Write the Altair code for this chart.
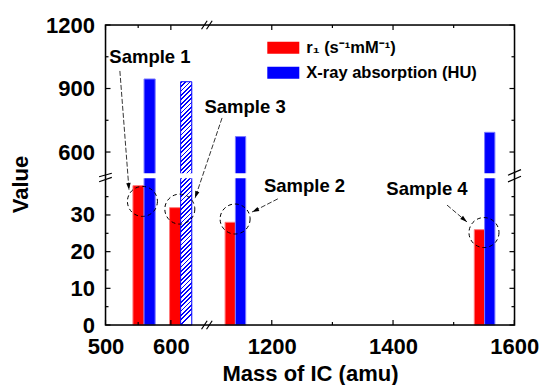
import altair as alt
import pandas as pd

# ---------------- data ----------------
samples = ["Sample 1", "Sample 3", "Sample 2", "Sample 4"]
mass = [559, 615, 1140, 1551]          # boundary between the red and blue bar of each sample
r1 = [38, 32, 28, 26]                  # r1 (s^-1 mM^-1)
xray = [945, 932, 673, 693]            # X-ray absorption (HU)
hatched = [False, True, False, False]

series_names = ["r\u2081 (s\u207b\u00b9mM\u207b\u00b9)", "X-ray absorption (HU)"]
series_colors = ["#ff0000", "#0000ff"]
series_edges = ["#ff7a7a", "#7a7aff"]

y_major = [0, 10, 20, 30, 600, 900, 1200]
y_minor = [5, 15, 25, 35, 750, 1050]
x_major = [500, 600, 1200, 1400, 1600]
x_minor = [550, 1300, 1500]

label_x = [568, 1156, 1254, 1456]
label_y = [1021, 785, 36.3, 35.5]
circle_x = [556.5, 613.7, 1139.5, 1550]
circle_y = [33.7, 31.6, 28.9, 25.2]
arrow_x1 = [522, 1118, 1210, 1489]
arrow_y1 = [983, 761, 34.4, 32.7]
arrow_x2 = [536, 637, 1167.5, 1522]
arrow_y2 = [36.8, 34.6, 30.8, 28.1]
arrow_angle = [355, 19, 65, 310]

# ---------------- layout / style ----------------
FONT = "Liberation Sans"
W, H = 409, 300
BAR_W = 17
x_domain = [500, 655, 1093, 1600]
x_range = [0, 101.3, 101.4, 408.8]
y_domain = [0, 40, 500, 1200]
y_range = [300, 153.3, 148.2, 0]
XBREAK, YBREAK = 870, 270

xs = alt.Scale(domain=x_domain, range=x_range, nice=False, zero=False)
ys = alt.Scale(domain=y_domain, range=y_range, nice=False, zero=False)


def pw(v, dom, rng):
    for i in range(len(dom) - 1):
        if dom[i] <= v <= dom[i + 1]:
            f = (v - dom[i]) / (dom[i + 1] - dom[i])
            return rng[i] + f * (rng[i + 1] - rng[i])
    return rng[-1]


xaxis = alt.Axis(values=x_major, ticks=False, tickSize=0, domain=False, grid=False,
                 labelFont=FONT, labelFontSize=22, labelFontWeight="bold", labelColor="black",
                 labelBaseline="alphabetic", labelPadding=28, labelFlush=False, labelOverlap=False,
                 format="d", title="Mass of IC (amu)", titleFont=FONT, titleFontSize=22,
                 titleFontWeight="bold", titleColor="black", titleBaseline="alphabetic",
                 titleY=55.5, titleX=W / 2)
yaxis = alt.Axis(values=y_major, ticks=False, tickSize=0, domain=False, grid=False,
                 labelFont=FONT, labelFontSize=22, labelFontWeight="bold", labelColor="black",
                 labelPadding=11, labelFlush=False, labelOverlap=False, format="d",
                 title="Value", titleFont=FONT, titleFontSize=22, titleFontWeight="bold",
                 titleColor="black", titleBaseline="alphabetic", titleAngle=270,
                 titleX=-78.5, titleY=159, titleAlign="center")


def X(f):
    return alt.X(f, type="quantitative", scale=xs, axis=xaxis)


def Y(f):
    return alt.Y(f, type="quantitative", scale=ys, axis=yaxis)


# ---------------- bars ----------------
rows = []
for s, m, a, b, h in zip(samples, mass, r1, xray, hatched):
    rows.append(dict(sample=s, x=m - BAR_W, x2=m, y=0, y2=a, series=series_names[0]))
    if not h:
        rows.append(dict(sample=s, x=m, x2=m + BAR_W, y=0, y2=b, series=series_names[1]))
bars_df = pd.DataFrame(rows)
hatch_df = pd.DataFrame([dict(sample=s, x=m, x2=m + BAR_W, y=0, y2=b)
                         for s, m, b, h in zip(samples, mass, xray, hatched) if h])

bars = alt.Chart(bars_df).mark_rect(strokeWidth=1).encode(
    x=X("x"), x2="x2:Q", y=Y("y"), y2="y2:Q",
    color=alt.Color("series:N", scale=alt.Scale(domain=series_names, range=series_colors),
                    legend=alt.Legend(orient="none", legendX=161.8, legendY=6.8, title=None,
                                      symbolType="M-1,-0.375H1V0.375H-1Z", symbolSize=1024,
                                      symbolStrokeWidth=0, symbolOpacity=1,
                                      labelFont=FONT, labelFontSize=16.5, labelFontWeight="bold",
                                      labelColor="black", labelOffset=7, rowPadding=0, padding=0,
                                      labelLimit=400)),
    stroke=alt.Stroke("series:N", scale=alt.Scale(domain=series_names, range=series_edges),
                      legend=None),
)

# hatch pattern as a striped linear gradient
hh = pw(0, y_domain, y_range) - pw(hatch_df["y2"].iloc[0], y_domain, y_range)
ww = pw(hatch_df["x2"].iloc[0], x_domain, x_range) - pw(hatch_df["x"].iloc[0], x_domain, x_range)
L = hh * (1 + (ww / hh) ** 2)
P, LW = 4.4, 1.7
stops = []
k = 0
while k * P < ww + hh:
    o0, o1, o2 = k * P / L, (k * P + LW) / L, (k + 1) * P / L
    o0, o1, o2 = [min(o, 1.0) for o in (o0, o1, o2)]
    stops += [alt.GradientStop(offset=o0, color="#0000ff"), alt.GradientStop(offset=o1, color="#0000ff"),
              alt.GradientStop(offset=o1, color="#ffffff"), alt.GradientStop(offset=o2, color="#ffffff")]
    k += 1
grad = alt.LinearGradient(gradient="linear", stops=stops, x1=0, y1=0, x2=ww / hh, y2=1)

hatch = alt.Chart(hatch_df).mark_rect(fill=grad, stroke="#0000ff", strokeWidth=1).encode(
    x=X("x"), x2="x2:Q", y=Y("y"), y2="y2:Q")

# white gap for the broken y axis
gap = alt.Chart(pd.DataFrame({"lo": [y_domain[1]], "hi": [y_domain[2]]})).mark_rect(
    color="white").encode(y=Y("lo"), y2="hi:Q", x=alt.value(1), x2=alt.value(W - 1))

# ---------------- annotations ----------------
ann_df = pd.DataFrame(dict(sample=samples, lx=label_x, ly=label_y, cx=circle_x, cy=circle_y,
                           ax1=arrow_x1, ay1=arrow_y1, ax2=arrow_x2, ay2=arrow_y2, ang=arrow_angle))

circles = alt.Chart(ann_df).mark_point(shape="circle", size=900, filled=False, color="black",
                                       strokeWidth=1, strokeDash=[4, 3], opacity=1).encode(
    x=X("cx"), y=Y("cy"))

arrows = alt.Chart(ann_df).mark_rule(color="black", strokeWidth=0.8, strokeDash=[5, 2]).encode(
    x=X("ax1"), y=Y("ay1"), x2="ax2:Q", y2="ay2:Q")

heads = alt.Chart(ann_df).mark_point(shape="M0,0L-0.5,-1.6L0.5,-1.6Z", size=77, filled=True,
                                     color="black", opacity=1).encode(
    x=X("ax2"), y=Y("ay2"), angle=alt.Angle("ang:Q", scale=None))

labels = alt.Chart(ann_df).mark_text(font=FONT, fontSize=18.5, fontWeight="bold", color="black",
                                     align="center", baseline="alphabetic").encode(
    x=X("lx"), y=Y("ly"), text="sample:N")

# ---------------- frame and ticks (inward, all four sides) ----------------
frame = alt.Chart(pd.DataFrame({"v": [0]})).mark_rect(fill=None, stroke="black", strokeWidth=1.5).encode(
    x=alt.value(0), x2=alt.value(W), y=alt.value(0), y2=alt.value(H))


def yticks(vals, n):
    d = pd.DataFrame({"v": vals})
    base = alt.Chart(d).mark_rule(color="black", strokeWidth=1.2)
    return (base.encode(y=Y("v"), x=alt.value(0), x2=alt.value(n)) +
            base.encode(y=Y("v"), x=alt.value(W), x2=alt.value(W - n)))


def xticks(vals, n):
    d = pd.DataFrame({"v": vals})
    base = alt.Chart(d).mark_rule(color="black", strokeWidth=1.2)
    return (base.encode(x=X("v"), y=alt.value(H), y2=alt.value(H - n)) +
            base.encode(x=X("v"), y=alt.value(0), y2=alt.value(n)))


# ---------------- axis break marks ----------------
brk = pd.DataFrame({"bx": [XBREAK], "by": [YBREAK]})
ybreak_l = alt.Chart(brk).mark_point(shape="M-0.98,0.15L0.97,-0.38M-0.98,0.92L0.97,0.24", size=169,
                                     filled=False, color="black", strokeWidth=1.2, opacity=1).encode(
    y=Y("by"), x=alt.value(0))
ybreak_r = alt.Chart(brk).mark_point(shape="M-1,-0.08L1,-0.95M-1,0.95L1,0.08", size=169,
                                     filled=False, color="black", strokeWidth=1.2, opacity=1).encode(
    y=Y("by"), x=alt.value(W))
xb_shape = "M-0.82,0.66L0.05,-0.66M-0.05,0.66L0.82,-0.66"
xbreak_b = alt.Chart(brk).mark_point(shape=xb_shape, size=169, filled=False, color="black",
                                     strokeWidth=1.2, opacity=1).encode(
    x=X("bx"), y=alt.value(H))
xbreak_t = alt.Chart(brk).mark_point(shape=xb_shape, size=169, filled=False, color="black",
                                     strokeWidth=1.2, opacity=1).encode(
    x=X("bx"), y=alt.value(0))

chart = alt.layer(
    bars, hatch, gap, circles, arrows, heads, labels, frame,
    yticks(y_major, 5), yticks(y_minor, 3), xticks(x_major, 5), xticks(x_minor, 3),
    ybreak_l, ybreak_r, xbreak_b, xbreak_t,
).properties(
    width=W, height=H,
    autosize=alt.AutoSizeParams(type="none"),
    padding={"left": 105.5, "top": 25, "right": 542 - 105.5 - W, "bottom": 385 - 25 - H},
).configure_view(
    stroke=None
).configure(background="white")

chart.save("out.html", embed_options={"renderer": "svg", "actions": False})
